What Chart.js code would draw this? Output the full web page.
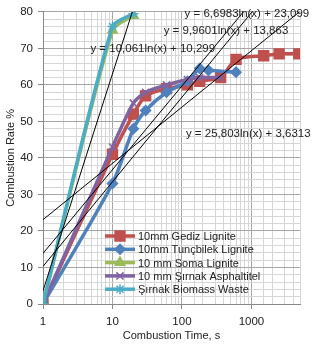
<!DOCTYPE html>
<html>
<head>
<meta charset="utf-8">
<script src="https://cdn.jsdelivr.net/npm/chart.js@4/dist/chart.umd.min.js"></script>
<style>
html, body { margin: 0; padding: 0; background: #fff; }
#wrap { width: 317px; height: 347px; }
</style>
</head>
<body>
<div id="wrap"><canvas id="myChart"></canvas></div>
<script>
// series names
const seriesNames = ['10mm Gediz Lignite', '10mm Tunçbilek Lignite', '10 mm Soma Lignite',
  '10 mm Şırnak Asphaltitel', 'Şırnak Biomass Waste'];

// time (s) and combustion rate (%)
const gedizTime = [1, 10, 20, 30, 60, 120, 180, 360, 600, 1500, 2500, 4800];
const gedizRate = [0, 41, 52, 57, 59, 60, 61, 62, 67, 68, 68.5, 68.5];
const tuncTime = [1, 10, 20, 30, 60, 120, 180, 240, 600];
const tuncRate = [0, 33, 48, 53, 58, 61, 64.5, 64, 63.5];
const somaTime = [1, 10, 20];
const somaRate = [0, 75, 79];
const sirnakTime = [1, 10, 20, 30, 60, 120, 180, 360];
const sirnakRate = [0, 43, 55, 58, 60, 61.5, 62, 62];
const biomassTime = [1, 10, 20];
const biomassRate = [0, 76, 79.5];

// logarithmic trendlines y = a ln(x) + b
const trendA = [6.6983, 9.9601, 10.061, 25.803];
const trendB = [23.099, 13.863, 10.299, 3.6313];
const trendText = ['y = 6,6983ln(x) + 23,099', 'y = 9,9601ln(x) + 13,863',
  'y = 10,061ln(x) + 10,299', 'y = 25,803ln(x) + 3,6313'];
const trendLabelX = [860, 430, 38, 900];
const trendLabelY = [79.4, 74.8, 69.9, 46.6];

const xTickLabels = [1, 10, 100, 1000];
const yTickLabels = [0, 10, 20, 30, 40, 50, 60, 70, 80];

const colors = ['#C0504D', '#4F81BD', '#9BBB59', '#8064A2', '#4BACC6'];
const markers = ['rect', 'rectRot', 'triangle', 'crossRot', 'star'];
const markerSize = [7, 5, 5.5, 5, 5];

const FONT = '"Liberation Sans", Arial, sans-serif';

function pts(xs, ys) {
  return xs.map((x, i) => ({x: x, y: ys[i]}));
}

const xs = [gedizTime, tuncTime, somaTime, sirnakTime, biomassTime];
const ys = [gedizRate, tuncRate, somaRate, sirnakRate, biomassRate];

var datasets = [];
for (let i = 0; i < 5; i++) {
  datasets.push({
    label: seriesNames[i],
    data: pts(xs[i], ys[i]),
    showLine: true,
    borderColor: colors[i],
    backgroundColor: colors[i],
    pointBorderColor: colors[i],
    pointBackgroundColor: colors[i],
    borderWidth: 3.5,
    pointBorderWidth: 1.5,
    pointStyle: markers[i],
    pointRadius: markerSize[i],
    tension: 0.25,
    order: 10 - i
  });
}
const xMax = 5000;
for (let i = 0; i < trendA.length; i++) {
  datasets.push({
    label: 'trend' + i,
    data: [{x: 1, y: trendB[i]}, {x: xMax, y: trendA[i] * Math.log(xMax) + trendB[i]}],
    showLine: true,
    borderColor: '#000',
    borderWidth: 1,
    pointRadius: 0,
    tension: 0,
    order: -1
  });
}

const textPlugin = {
  id: 'extras',
  afterDatasetsDraw(chart) {
    const ctx = chart.ctx;
    const xs_ = chart.scales.x, ys_ = chart.scales.y;
    ctx.save();
    ctx.font = '11.5px ' + FONT;
    ctx.fillStyle = '#222';
    ctx.textAlign = 'center';
    ctx.textBaseline = 'middle';
    for (let i = 0; i < trendText.length; i++) {
      ctx.fillText(trendText[i], xs_.getPixelForValue(trendLabelX[i]), ys_.getPixelForValue(trendLabelY[i]));
    }
    // legend inside plot
    ctx.font = '11px ' + FONT;
    const lx = chart.chartArea.left + 62;
    let ly = chart.chartArea.bottom - 68;
    ctx.textAlign = 'left';
    for (let i = 0; i < 5; i++) {
      ctx.strokeStyle = colors[i];
      ctx.fillStyle = colors[i];
      ctx.lineWidth = 3.5;
      ctx.beginPath();
      ctx.moveTo(lx, ly);
      ctx.lineTo(lx + 30, ly);
      ctx.stroke();
      ctx.lineWidth = 1.5;
      Chart.helpers.drawPoint(ctx, {pointStyle: markers[i], radius: markerSize[i], borderWidth: 1.5}, lx + 15, ly);
      ctx.fillStyle = '#222';
      ctx.fillText(seriesNames[i], lx + 33, ly + 1);
      ly += 13.3;
    }
    ctx.restore();
  }
};

function isDecade(v) {
  const l = Math.log10(v);
  return Math.abs(l - Math.round(l)) < 1e-9;
}

new Chart('myChart', {
  type: 'scatter',
  data: {datasets: datasets},
  options: {
    responsive: true,
    maintainAspectRatio: false,
    animation: false,
    layout: {padding: {top: 11, right: 17, left: 0, bottom: 0}},
    plugins: {legend: {display: false}, tooltip: {enabled: false}},
    scales: {
      x: {
        type: 'logarithmic',
        min: 1,
        max: xMax,
        afterFit: s => { s.height = 43; },
        title: {display: true, text: 'Combustion Time, s', color: '#222',
          font: {family: FONT, size: 11}, padding: {top: 10}},
        ticks: {
          autoSkip: false, maxRotation: 0, color: '#222', padding: 6,
          font: {family: FONT, size: 11.5},
          callback: v => (isDecade(v) && xTickLabels.includes(Math.round(v))) ? String(Math.round(v)) : ''
        },
        grid: {
          color: c => (c.tick && isDecade(c.tick.value)) ? '#a6a6a6' : '#d6d6d6',
          lineWidth: 1,
          tickLength: 5,
          tickColor: c => (c.tick && isDecade(c.tick.value)) ? '#888' : 'rgba(0,0,0,0)'
        },
        border: {color: '#888'}
      },
      y: {
        min: 0,
        max: 80,
        afterFit: s => { s.width = 43; },
        title: {display: true, text: 'Combustion Rate %', color: '#222',
          font: {family: FONT, size: 11}, padding: {bottom: 2}},
        ticks: {
          stepSize: 2, autoSkip: false, color: '#222', padding: 5,
          font: {family: FONT, size: 11.5},
          callback: v => yTickLabels.includes(v) ? String(v) : ''
        },
        grid: {
          color: c => (c.tick && c.tick.value % 10 === 0) ? '#a6a6a6' : '#d6d6d6',
          lineWidth: 1,
          tickLength: 5,
          tickColor: c => (c.tick && c.tick.value % 10 === 0) ? '#888' : 'rgba(0,0,0,0)'
        },
        border: {color: '#888'}
      }
    }
  },
  plugins: [textPlugin]
});
</script>
</body>
</html>
